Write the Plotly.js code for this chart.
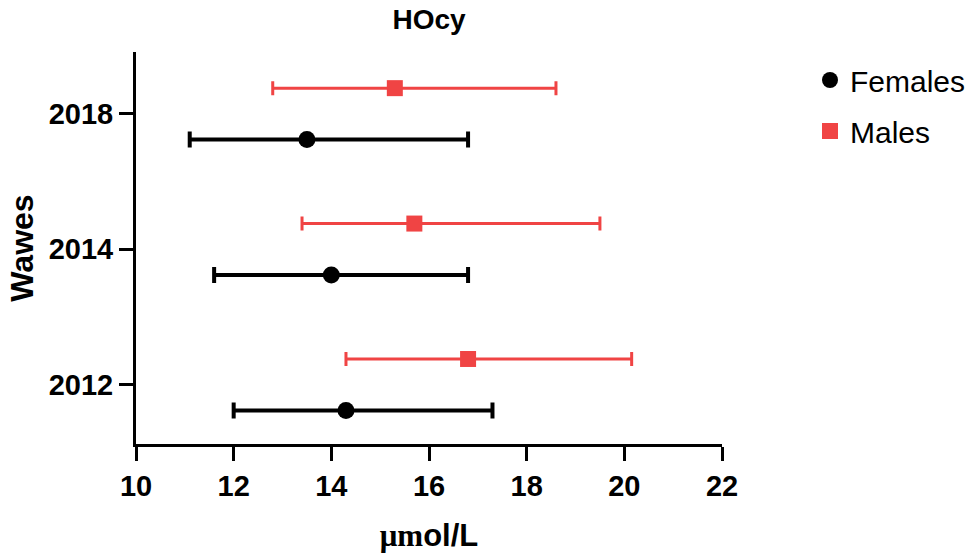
<!DOCTYPE html>
<html><head><meta charset="utf-8">
<script src="https://cdn.plot.ly/plotly-3.0.1.min.js"></script>
<style>html,body{margin:0;padding:0;background:#fff}</style>
</head><body>
<div id="chart" style="width:974px;height:557px"></div>
<script>
// Data
const waves = ['2012', '2014', '2018'];
const wavePos = [0, 1, 2];
const femalesMean = [14.3, 14.0, 13.5];
const femalesLow = [12.0, 11.6, 11.1];
const femalesHigh = [17.3, 16.8, 16.8];
const malesMean = [16.8, 15.7, 15.3];
const malesLow = [14.3, 13.4, 12.8];
const malesHigh = [20.15, 19.5, 18.6];

const RED = 'rgb(240,68,68)';
const FONT = 'Liberation Sans, Arial, Helvetica, sans-serif';
const OFF = 0.19;

const females = {
  type: 'scatter', mode: 'markers', name: 'Females', legendgroup: 'f',
  x: femalesMean,
  y: wavePos.map(p => p - OFF),
  marker: {symbol: 'circle', size: 17, color: '#000'},
  error_x: {
    type: 'data', symmetric: false,
    array: femalesHigh.map((h, i) => h - femalesMean[i]),
    arrayminus: femalesLow.map((l, i) => femalesMean[i] - l),
    color: '#000', thickness: 4, width: 8
  },
  hoverinfo: 'x'
};
const males = {
  type: 'scatter', mode: 'markers', name: 'Males', legendgroup: 'm',
  x: malesMean,
  y: wavePos.map(p => p + OFF),
  marker: {symbol: 'square', size: 16, color: RED},
  error_x: {
    type: 'data', symmetric: false,
    array: malesHigh.map((h, i) => h - malesMean[i]),
    arrayminus: malesLow.map((l, i) => malesMean[i] - l),
    color: RED, thickness: 3, width: 7
  },
  hoverinfo: 'x'
};

const layout = {
  width: 974, height: 557,
  paper_bgcolor: '#fff', plot_bgcolor: '#fff',
  margin: {l: 136, r: 252, t: 52, b: 113},
  font: {family: FONT, color: '#000'},
  title: {
    text: 'HOcy', font: {size: 28, weight: 'bold', family: FONT, color: '#000'},
    x: 0.5, xref: 'paper', xanchor: 'center',
    y: 1 - 19 / 557, yref: 'container', yanchor: 'middle'
  },
  xaxis: {
    range: [10, 22], tick0: 10, dtick: 2,
    showline: true, linewidth: 3, linecolor: '#000',
    ticks: 'outside', ticklen: 14, tickwidth: 3, tickcolor: '#000',
    showgrid: false, zeroline: false,
    tickfont: {size: 29, weight: 'bold', family: FONT, color: '#000'},
    title: {
      text: '<span style="font-family:\'Liberation Serif\', \'DejaVu Serif\', serif">μm</span>ol/L',
      font: {size: 31, weight: 'bold', family: FONT, color: '#000'},
      standoff: 24
    },
    fixedrange: true
  },
  yaxis: {
    range: [-0.438, 2.457],
    tickvals: wavePos, ticktext: waves,
    showline: true, linewidth: 3, linecolor: '#000',
    ticks: 'outside', ticklen: 14, tickwidth: 3, tickcolor: '#000',
    showgrid: false, zeroline: false,
    tickfont: {size: 29, weight: 'bold', family: FONT, color: '#000'},
    title: {
      text: 'Wawes',
      font: {size: 32, weight: 'bold', family: FONT, color: '#000'},
      standoff: 6
    },
    fixedrange: true
  },
  showlegend: true,
  legend: {
    x: 810 / 974, xref: 'container', xanchor: 'left',
    y: 1 - 54 / 557, yref: 'container', yanchor: 'top',
    font: {size: 30, family: FONT, color: '#000'},
    traceorder: 'grouped', tracegroupgap: 9,
    bgcolor: 'rgba(0,0,0,0)', borderwidth: 0
  }
};

Plotly.newPlot('chart', [females, males], layout, {displayModeBar: false, staticPlot: true});
</script>
</body></html>
